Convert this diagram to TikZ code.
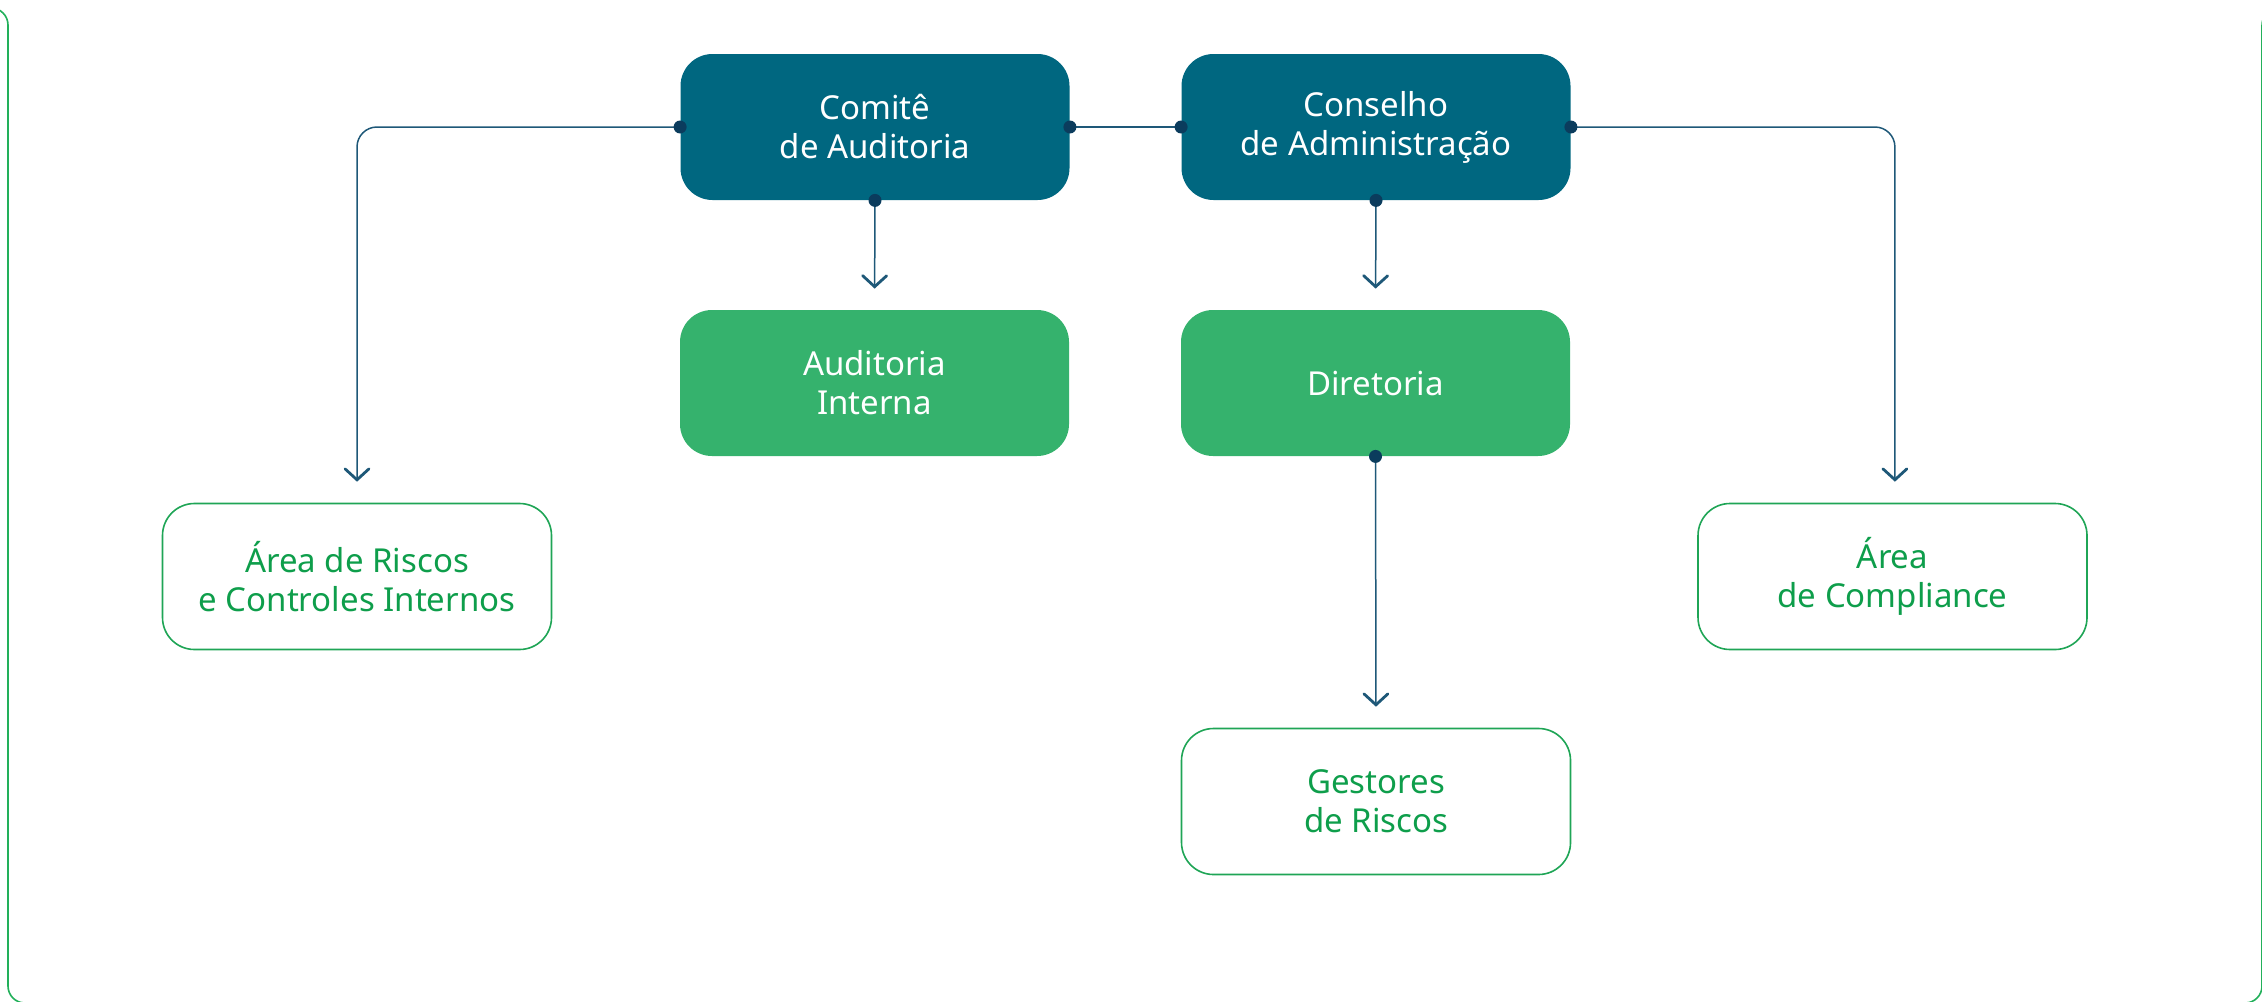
\documentclass[tikz,border=0pt]{standalone}
\usepackage{fontspec}
\setmainfont{Noto Sans}
\usetikzlibrary{arrows.meta}
\definecolor{darkbox}{HTML}{006780}
\definecolor{greenfill}{HTML}{35B26D}
\definecolor{greentext}{HTML}{0E9E4B}
\definecolor{greenborder}{HTML}{1FA556}
\definecolor{linecol}{HTML}{1E5878}
\definecolor{dotcol}{HTML}{0B3C5D}
\definecolor{framecol}{HTML}{22B05A}
\tikzset{
  box/.style={rectangle, rounded corners=16pt, minimum width=194.5pt, minimum height=73pt,
    align=center, font=\fontsize{16.5}{19.5}\selectfont, inner sep=0pt},
  topbox/.style={box, fill=darkbox, text=white},
  fillbox/.style={box, fill=greenfill, text=white},
  outbox/.style={box, draw=greenborder, line width=0.8pt, fill=white, text=greentext},
  conn/.style={draw=linecol, line width=0.75pt},
  arr/.style={conn, -{Straight Barb[length=5.5pt, width=12pt, line width=1.4pt, line cap=round]}, shorten >=10.5pt},
  dotmark/.style={circle, fill=dotcol, inner sep=0pt, minimum size=6.5pt},
  framestyle/.style={draw=framecol, line width=0.8pt, rounded corners=8.5pt}
}
\begin{document}
\begin{tikzpicture}[x=0.5pt, y=-0.5pt]
\useasboundingbox (0,0) rectangle (2262,1001);
% outer frame pieces
\draw[framestyle] (-40,8) -- (8,8) -- (8,1003) -- (50,1003);
\draw[framestyle] (2220,1003) -- (2262,1003) -- (2262,8) -- (2300,8);

% nodes
\node[topbox] (comite) at (875,127) {Comitê\\de Auditoria};
\node[topbox] (conselho) at (1376,127) {Conselho\\de Administração};
\node[fillbox] (auditoria) at (874.5,383) {Auditoria\\Interna};
\node[fillbox] (diretoria) at (1375.5,383) {Diretoria};
\node[outbox] (gestores) at (1376,801.5) {Gestores\\de Riscos};
\node[outbox] (riscos) at (357,576.5) {Área de Riscos\\e Controles Internos};
\node[outbox] (compliance) at (1892.5,576.5) {Área\\de Compliance};

% connectors
\draw[conn] (comite.east) -- (conselho.west);
\draw[arr, rounded corners=10pt] (comite.west) -| (riscos.north);
\draw[arr, rounded corners=10pt] (conselho.east) -| ([xshift=1.2pt]compliance.north);
\draw[arr] (comite.south) -- (auditoria.north);
\draw[arr] (conselho.south) -- (diretoria.north);
\draw[arr] (diretoria.south) -- (gestores.north);

% dots
\node[dotmark] (d1) at (comite.west) {};
\node[dotmark] (d2) at (comite.east) {};
\node[dotmark] (d3) at (comite.south) {};
\node[dotmark] (d4) at (conselho.west) {};
\node[dotmark] (d5) at (conselho.east) {};
\node[dotmark] (d6) at (conselho.south) {};
\node[dotmark] (d7) at (diretoria.south) {};
\end{tikzpicture}
\end{document}
